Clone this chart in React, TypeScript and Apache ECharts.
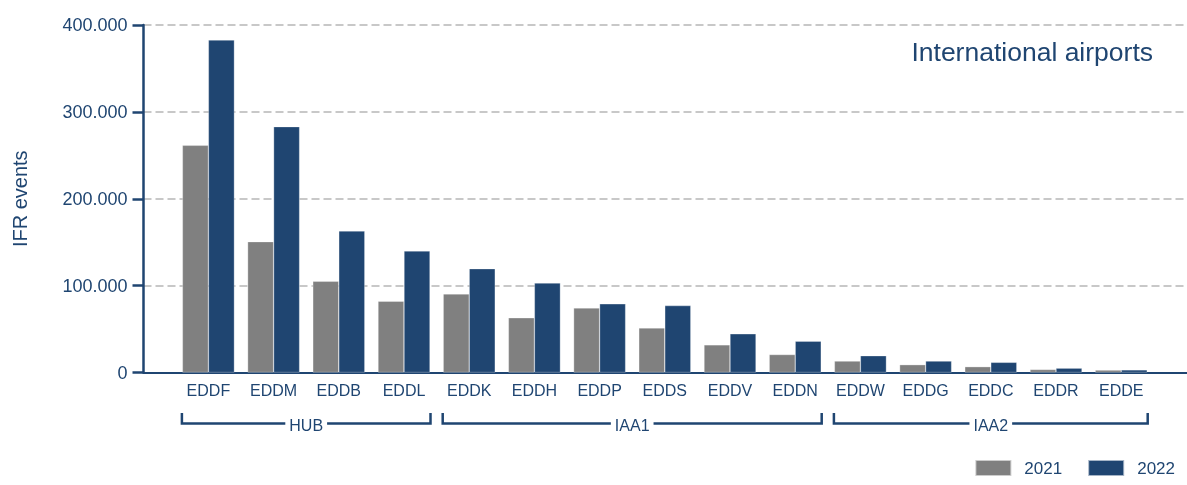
import React, { useEffect, useRef } from "react";
import * as echarts from "echarts";

const categories = ["EDDF", "EDDM", "EDDB", "EDDL", "EDDK", "EDDH", "EDDP", "EDDS", "EDDV", "EDDN", "EDDW", "EDDG", "EDDC", "EDDR", "EDDE"];
const values2021 = [261500, 150600, 105000, 82000, 90500, 63000, 74300, 51300, 31800, 20700, 13200, 9000, 6700, 3500, 2800];
const values2022 = [382700, 283000, 162900, 139900, 119500, 103000, 79000, 77000, 44500, 36000, 19300, 13200, 11700, 5000, 3000];
const groups = [
  { name: "HUB", from: 0, to: 3 },
  { name: "IAA1", from: 4, to: 9 },
  { name: "IAA2", from: 10, to: 14 },
];
const yTicks = [0, 100000, 200000, 300000, 400000];

const BLUE = "#1f4571";
const GREY = "#808080";
const FONT = "'Liberation Sans', Arial, sans-serif";
const BAR_W = 26;

function fmt(v: number) {
  return String(Math.round(v)).replace(/\B(?=(\d{3})+(?!\d))/g, ".");
}

export default function App() {
  const ref = useRef<HTMLDivElement>(null);
  useEffect(() => {
    const chart = echarts.init(ref.current!, undefined, { renderer: "svg" });
    const option: any = {
      animation: false,
      textStyle: { fontFamily: FONT },
      title: {
        text: "International airports",
        right: 29,
        top: 33,
        textStyle: { color: BLUE, fontSize: 26.5, fontWeight: "normal", fontFamily: FONT },
      },
      legend: {
        data: ["2021", "2022"],
        right: 7,
        top: 454,
        icon: "rect",
        itemWidth: 36,
        itemHeight: 16,
        itemGap: 25,
        textStyle: { color: BLUE, fontSize: 17, fontFamily: FONT, padding: [0, 0, 0, 8] },
      },
      grid: [
        { left: 175.8, right: 33.2, top: 25, bottom: 112.5 },
        { left: 143.5, right: 0, top: 25, bottom: 112.5 },
      ],
      xAxis: [
        {
          type: "category",
          gridIndex: 0,
          data: categories,
          axisLine: { show: false },
          axisTick: { show: false },
          axisLabel: { color: BLUE, fontSize: 16, margin: 10, fontFamily: FONT, interval: 0 },
        },
        {
          type: "value",
          gridIndex: 1,
          min: 0,
          max: 1,
          axisLine: { show: true, onZero: false, lineStyle: { color: BLUE, width: 2 } },
          axisTick: { show: false },
          axisLabel: { show: false },
          splitLine: { show: false },
        },
      ],
      yAxis: [
        {
          type: "value",
          gridIndex: 0,
          min: 0,
          max: 400000,
          interval: 100000,
          show: false,
          splitLine: { show: false },
        },
        {
          type: "value",
          gridIndex: 1,
          min: 0,
          max: 400000,
          interval: 100000,
          name: "IFR events",
          nameLocation: "middle",
          nameRotate: 90,
          nameGap: 114,
          nameTextStyle: { color: BLUE, fontSize: 20, fontFamily: FONT },
          axisLine: { show: true, lineStyle: { color: BLUE, width: 2.5 } },
          axisTick: { show: true, length: 11, lineStyle: { color: BLUE, width: 2.5 } },
          axisLabel: {
            color: BLUE,
            fontSize: 18,
            margin: 16,
            fontFamily: FONT,
            formatter: (v: number) => (yTicks.includes(v) ? fmt(v) : ""),
          },
          splitLine: { show: true, lineStyle: { color: "#c8c8c8", width: 2, type: [8, 4] } },
        },
      ],
      series: [
        {
          name: "2021",
          type: "bar",
          xAxisIndex: 0,
          yAxisIndex: 0,
          data: values2021,
          barWidth: BAR_W,
          barGap: "0%",
          itemStyle: { color: GREY, borderColor: "rgba(255,255,255,0.6)", borderWidth: 0.5 },
          z: 3,
        },
        {
          name: "2022",
          type: "bar",
          xAxisIndex: 0,
          yAxisIndex: 0,
          data: values2022,
          barWidth: BAR_W,
          barGap: "0%",
          itemStyle: { color: BLUE, borderColor: "rgba(255,255,255,0.6)", borderWidth: 0.5 },
          z: 3,
        },
      ],
    };
    chart.setOption(option);

    // group brackets positioned from the category axis scale
    const yLine = 423.5;
    const yTop = 413;
    const labelFont = `16px ${FONT}`;
    const graphics: any[] = [];
    groups.forEach((g) => {
      const x0 = chart.convertToPixel({ xAxisIndex: 0 }, categories[g.from]) as number;
      const x1 = chart.convertToPixel({ xAxisIndex: 0 }, categories[g.to]) as number;
      const left = x0 - BAR_W - 0.5;
      const right = x1 + BAR_W + 0.5;
      const mid = (left + right) / 2;
      const fmtAny = echarts.format as any;
      const textW = fmtAny.getTextRect ? fmtAny.getTextRect(g.name, labelFont).width : g.name.length * 10;
      const half = textW / 2 + 4;
      const ls = { stroke: BLUE, lineWidth: 2.5 };
      graphics.push(
        { type: "polyline", shape: { points: [[left, yTop], [left, yLine], [mid - half, yLine]] }, style: { ...ls, fill: null } },
        { type: "polyline", shape: { points: [[mid + half, yLine], [right, yLine], [right, yTop]] }, style: { ...ls, fill: null } },
        {
          type: "text",
          x: mid,
          y: yLine + 1.5,
          style: { text: g.name, fill: BLUE, font: labelFont, align: "center", verticalAlign: "middle" },
        }
      );
    });
    chart.setOption({ graphic: graphics });

    return () => chart.dispose();
  }, []);
  return <div ref={ref} style={{ position: "fixed", left: 0, top: 0, width: 1187, height: 485 }} />;
}
